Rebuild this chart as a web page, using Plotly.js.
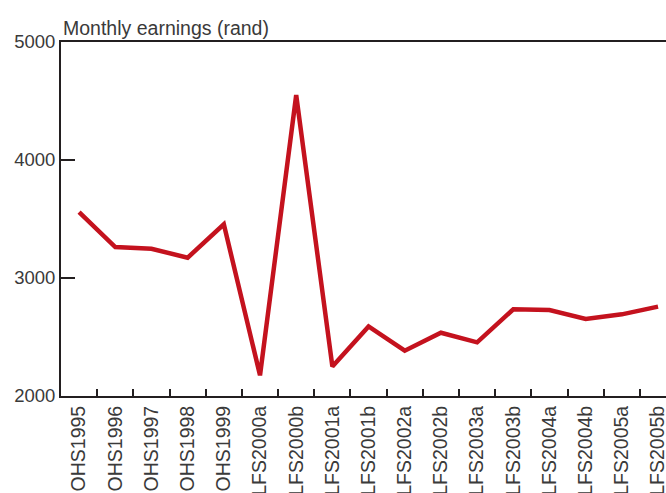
<!DOCTYPE html>
<html>
<head>
<meta charset="utf-8">
<script src="https://cdn.plot.ly/plotly-3.0.1.min.js"></script>
<style>
  html, body { margin: 0; padding: 0; background: #ffffff; }
  #chart { width: 666px; height: 493px; }
</style>
</head>
<body>
<div id="chart"></div>
<script>
// Survey rounds (x categories)
const surveys = [
  'OHS1995', 'OHS1996', 'OHS1997', 'OHS1998', 'OHS1999',
  'LFS2000a', 'LFS2000b', 'LFS2001a', 'LFS2001b', 'LFS2002a',
  'LFS2002b', 'LFS2003a', 'LFS2003b', 'LFS2004a', 'LFS2004b',
  'LFS2005a', 'LFS2005b'
];
// Monthly earnings (rand)
const earnings = [
  3559, 3262, 3248, 3172, 3455,
  2175, 4550, 2250, 2590, 2384,
  2536, 2455, 2735, 2729, 2653,
  2692, 2757
];
const yTicks = [2000, 3000, 4000, 5000];
const yTitle = 'Monthly earnings (rand)';

const FONT = 'Liberation Sans, Arial, Helvetica, sans-serif';
const TEXT = '#3a3a3a';
const AXIS = '#231f20';

const trace = {
  type: 'scatter',
  mode: 'lines',
  x: surveys,
  y: earnings,
  line: { color: '#c4121e', width: 4.5 },
  hoverinfo: 'x+y'
};

const layout = {
  width: 666,
  height: 493,
  margin: { l: 61, r: 0, t: 42, b: 97, pad: 0 },
  paper_bgcolor: '#ffffff',
  plot_bgcolor: '#ffffff',
  showlegend: false,
  font: { family: FONT, color: TEXT },
  xaxis: {
    type: 'category',
    range: [-0.5, 16.22],
    showgrid: false,
    zeroline: false,
    showline: true,
    mirror: true,
    linecolor: AXIS,
    linewidth: 2,
    ticks: 'inside',
    tickson: 'boundaries',
    ticklen: 7,
    tickwidth: 2,
    tickcolor: AXIS,
    tickangle: -90,
    tickfont: { family: FONT, size: 19.5, color: TEXT },
    fixedrange: true
  },
  yaxis: {
    range: [2000, 5000],
    tickvals: yTicks,
    ticktext: yTicks.map(String),
    showgrid: false,
    zeroline: false,
    showline: true,
    linecolor: AXIS,
    linewidth: 2,
    ticks: 'inside',
    ticklen: 14,
    tickwidth: 2,
    tickcolor: AXIS,
    tickfont: { family: FONT, size: 18.5, color: TEXT },
    fixedrange: true
  },
  annotations: [{
    text: yTitle,
    xref: 'paper', yref: 'paper',
    x: 0, y: 1,
    xanchor: 'left', yanchor: 'bottom',
    xshift: 0, yshift: 1,
    showarrow: false,
    font: { family: FONT, size: 19.5, color: TEXT }
  }]
};

Plotly.newPlot('chart', [trace], layout, { displayModeBar: false, staticPlot: true });
</script>
</body>
</html>
